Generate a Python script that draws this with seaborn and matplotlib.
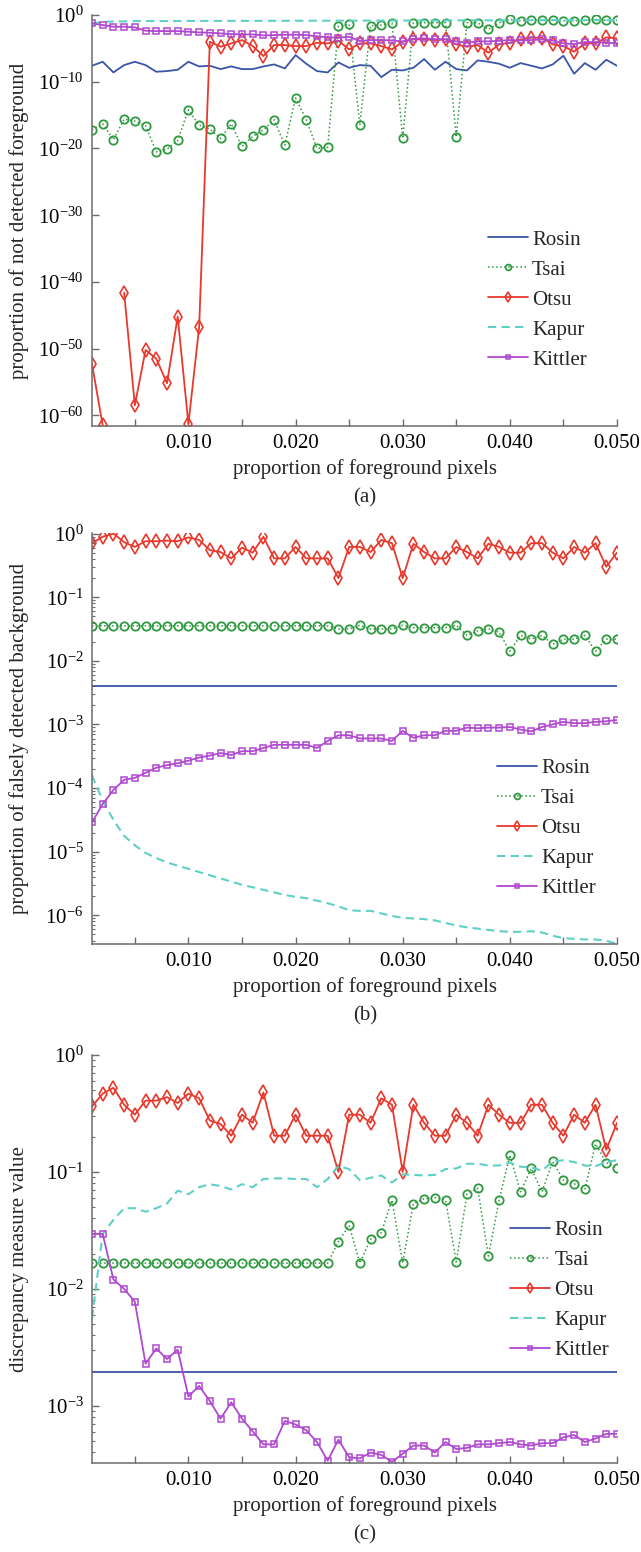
import numpy as np
import pandas as pd
import matplotlib
matplotlib.use('Agg')
import matplotlib.pyplot as plt
import matplotlib.ticker as mticker
import seaborn as sns

# x axis: proportion of foreground pixels (same for all three panels)
fg_prop = [0.001, 0.002, 0.003, 0.004, 0.005, 0.006, 0.007, 0.008, 0.009, 0.010,
           0.011, 0.012, 0.013, 0.014, 0.015, 0.016, 0.017, 0.018, 0.019, 0.020,
           0.021, 0.022, 0.023, 0.024, 0.025, 0.026, 0.027, 0.028, 0.029, 0.030,
           0.031, 0.032, 0.033, 0.034, 0.035, 0.036, 0.037, 0.038, 0.039, 0.040,
           0.041, 0.042, 0.043, 0.044, 0.045, 0.046, 0.047, 0.048, 0.049, 0.050]

# values are read off the log axes, stored as log10(value)
# (a) proportion of not detected foreground
rosin_a = [-7.6, -7.0, -8.6, -7.5, -7.0, -7.5, -8.5, -8.4, -8.2, -7.0,
           -7.7, -7.6, -8.1, -7.7, -8.1, -8.1, -7.7, -7.4, -8.0, -6.0,
           -7.3, -8.4, -8.6, -7.1, -7.9, -7.5, -7.6, -9.3, -8.2, -8.3,
           -7.9, -6.6, -8.2, -7.0, -8.1, -8.3, -6.8, -7.0, -7.3, -7.9,
           -7.2, -7.6, -8.0, -7.4, -6.1, -8.8, -7.2, -8.2, -6.7, -7.6]
tsai_a = [-17.2, -16.3, -18.7, -15.6, -15.9, -16.6, -20.5, -20.1, -18.8, -14.2,
          -16.5, -17.1, -18.5, -16.3, -19.7, -18.2, -17.2, -15.7, -19.5, -12.4,
          -15.7, -20.0, -19.8, -1.7, -1.4, -16.5, -1.6, -1.5, -1.2, -18.5,
          -1.15, -1.15, -1.15, -1.15, -18.3, -1.15, -1.15, -2.15, -1.15, -0.65,
          -0.85, -0.75, -0.8, -0.75, -0.85, -0.85, -0.8, -0.65, -0.8, -0.8]
otsu_a = [-52.3, -61.5, np.nan, -41.6, -58.5, -50.2, -51.5, -55.2, -45.2, -61.3,
          -46.8, -4.0, -4.75, -4.25, -3.75, -4.65, -6.15, -4.5, -4.5, -4.65,
          -4.65, -4.15, -4.25, -3.85, -5.15, -4.25, -4.25, -4.65, -5.15, -4.0,
          -3.65, -3.65, -3.75, -3.65, -4.4, -4.75, -4.5, -5.65, -4.4, -4.15,
          -3.65, -3.4, -3.4, -4.4, -4.65, -5.5, -4.25, -4.25, -3.35, -3.5]
kapur_a = [-1.25, -1.05, -0.95, -0.95, -0.9, -0.9, -0.9, -0.9, -0.9, -0.88,
           -0.88, -0.88, -0.87, -0.87, -0.87, -0.87, -0.86, -0.86, -0.86, -0.85,
           -0.85, -0.85, -0.85, -0.84, -0.84, -0.84, -0.83, -0.83, -0.83, -0.82,
           -0.82, -0.82, -0.81, -0.81, -0.8, -0.8, -0.8, -0.8, -0.79, -0.79,
           -0.78, -0.78, -0.78, -0.77, -0.77, -0.77, -0.76, -0.76, -0.75, -0.75]
kittler_a = [-1.25, -1.5, -1.75, -1.75, -1.85, -2.35, -2.4, -2.4, -2.4, -2.5,
             -2.6, -2.65, -2.75, -2.85, -2.9, -2.9, -3.05, -3.0, -2.95, -2.95,
             -3.0, -3.2, -3.35, -3.4, -3.25, -3.9, -3.75, -3.75, -3.8, -3.95,
             -3.55, -3.5, -3.6, -3.65, -3.95, -4.15, -3.95, -3.95, -3.85, -3.75,
             -3.8, -3.75, -3.65, -3.8, -4.25, -4.35, -4.05, -4.05, -4.15, -4.25]

# (b) proportion of falsely detected background
rosin_b = [-2.39, -2.39, -2.39, -2.39, -2.39, -2.39, -2.39, -2.39, -2.39, -2.39,
           -2.39, -2.39, -2.39, -2.39, -2.39, -2.39, -2.39, -2.39, -2.39, -2.39,
           -2.39, -2.39, -2.39, -2.39, -2.39, -2.39, -2.39, -2.39, -2.39, -2.39,
           -2.39, -2.39, -2.39, -2.39, -2.39, -2.39, -2.39, -2.39, -2.39, -2.39,
           -2.39, -2.39, -2.39, -2.39, -2.39, -2.39, -2.39, -2.39, -2.39, -2.39]
tsai_b = [-1.45, -1.45, -1.45, -1.45, -1.45, -1.45, -1.45, -1.45, -1.45, -1.45,
          -1.45, -1.45, -1.45, -1.45, -1.45, -1.45, -1.45, -1.45, -1.45, -1.45,
          -1.45, -1.45, -1.45, -1.50, -1.50, -1.44, -1.50, -1.50, -1.50, -1.44,
          -1.48, -1.48, -1.48, -1.48, -1.44, -1.60, -1.53, -1.50, -1.55, -1.85,
          -1.60, -1.66, -1.60, -1.74, -1.66, -1.66, -1.60, -1.85, -1.66, -1.66]
otsu_b = [-0.15, -0.05, 0.0, -0.135, -0.21, -0.12, -0.12, -0.11, -0.12, -0.06,
          -0.1, -0.26, -0.29, -0.39, -0.22, -0.3, -0.05, -0.39, -0.39, -0.21,
          -0.39, -0.39, -0.39, -0.7, -0.21, -0.21, -0.29, -0.1, -0.15, -0.7,
          -0.16, -0.29, -0.39, -0.39, -0.21, -0.29, -0.39, -0.16, -0.21, -0.3,
          -0.3, -0.15, -0.15, -0.3, -0.39, -0.21, -0.3, -0.15, -0.52, -0.3]
kapur_b = [-3.8, -4.2, -4.5, -4.75, -4.9, -5.02, -5.1, -5.17, -5.22, -5.27,
           -5.32, -5.37, -5.42, -5.47, -5.52, -5.56, -5.6, -5.64, -5.68, -5.71,
           -5.73, -5.77, -5.81, -5.86, -5.92, -5.93, -5.93, -5.97, -6.01, -6.04,
           -6.05, -6.06, -6.08, -6.12, -6.16, -6.19, -6.21, -6.23, -6.25, -6.26,
           -6.26, -6.25, -6.27, -6.32, -6.36, -6.37, -6.38, -6.38, -6.4, -6.45]
kittler_b = [-4.54, -4.25, -4.03, -3.87, -3.84, -3.76, -3.68, -3.64, -3.61, -3.57,
             -3.52, -3.49, -3.45, -3.48, -3.42, -3.42, -3.37, -3.32, -3.32, -3.32,
             -3.32, -3.37, -3.26, -3.17, -3.17, -3.22, -3.22, -3.22, -3.26, -3.10,
             -3.21, -3.17, -3.17, -3.10, -3.10, -3.05, -3.06, -3.05, -3.05, -3.04,
             -3.08, -3.11, -3.04, -3.0, -2.96, -2.98, -2.98, -2.96, -2.95, -2.93]

# (c) discrepancy measure value
rosin_c = [-2.71, -2.71, -2.71, -2.71, -2.71, -2.71, -2.71, -2.71, -2.71, -2.71,
           -2.71, -2.71, -2.71, -2.71, -2.71, -2.71, -2.71, -2.71, -2.71, -2.71,
           -2.71, -2.71, -2.71, -2.71, -2.71, -2.71, -2.71, -2.71, -2.71, -2.71,
           -2.71, -2.71, -2.71, -2.71, -2.71, -2.71, -2.71, -2.71, -2.71, -2.71,
           -2.71, -2.71, -2.71, -2.71, -2.71, -2.71, -2.71, -2.71, -2.71, -2.71]
tsai_c = [-1.78, -1.78, -1.78, -1.78, -1.78, -1.78, -1.78, -1.78, -1.78, -1.78,
          -1.78, -1.78, -1.78, -1.78, -1.78, -1.78, -1.78, -1.78, -1.78, -1.78,
          -1.78, -1.78, -1.78, -1.595, -1.457, -1.78, -1.575, -1.52, -1.24, -1.78,
          -1.27, -1.23, -1.22, -1.24, -1.77, -1.19, -1.14, -1.72, -1.24, -0.856,
          -1.17, -0.97, -1.17, -0.91, -1.07, -1.10, -1.15, -0.76, -0.92, -0.97]
otsu_c = [-0.44, -0.33, -0.28, -0.425, -0.51, -0.39, -0.39, -0.36, -0.41, -0.33,
          -0.37, -0.56, -0.59, -0.69, -0.51, -0.58, -0.32, -0.69, -0.69, -0.51,
          -0.69, -0.69, -0.69, -1.0, -0.51, -0.51, -0.58, -0.37, -0.425, -1.0,
          -0.425, -0.58, -0.69, -0.69, -0.51, -0.58, -0.69, -0.425, -0.51, -0.58,
          -0.58, -0.425, -0.425, -0.58, -0.69, -0.51, -0.58, -0.425, -0.81, -0.58]
kapur_c = [-2.25, -1.53, -1.41, -1.31, -1.31, -1.34, -1.31, -1.27, -1.16, -1.19,
           -1.13, -1.105, -1.12, -1.15, -1.105, -1.13, -1.06, -1.055, -1.055, -1.06,
           -1.06, -1.13, -1.06, -0.95, -0.975, -1.07, -1.05, -1.03, -1.09, -1.02,
           -1.025, -1.03, -1.025, -0.975, -0.97, -0.93, -0.93, -0.945, -0.945, -0.92,
           -0.955, -0.96, -0.99, -0.91, -0.9, -0.915, -0.945, -0.95, -0.915, -0.9]
kittler_c = [-1.53, -1.53, -1.92, -2.0, -2.11, -2.64, -2.51, -2.60, -2.52, -2.92,
             -2.83, -2.96, -3.11, -2.97, -3.11, -3.22, -3.33, -3.33, -3.13, -3.16,
             -3.21, -3.31, -3.47, -3.29, -3.44, -3.45, -3.40, -3.42, -3.48, -3.41,
             -3.34, -3.34, -3.40, -3.31, -3.37, -3.36, -3.33, -3.33, -3.32, -3.31,
             -3.33, -3.34, -3.32, -3.32, -3.27, -3.25, -3.31, -3.28, -3.24, -3.24]

method_names = ['Rosin', 'Tsai', 'Otsu', 'Kapur', 'Kittler']
panels = [
    ('proportion of not detected foreground', '(a)',
     [rosin_a, tsai_a, otsu_a, kapur_a, kittler_a]),
    ('proportion of falsely detected background', '(b)',
     [rosin_b, tsai_b, otsu_b, kapur_b, kittler_b]),
    ('discrepancy measure value', '(c)',
     [rosin_c, tsai_c, otsu_c, kapur_c, kittler_c]),
]

# look of each method
colors = {'Rosin': '#3a55a8', 'Tsai': '#2f9a3f', 'Otsu': '#e8392c',
          'Kapur': '#5fd0c6', 'Kittler': '#b048d0'}
line_styles = {
    'Rosin':   dict(linestyle='-', linewidth=1.3),
    'Tsai':    dict(linestyle=':', linewidth=1.1, marker='o', markersize=6,
                    markerfacecolor='none', markeredgewidth=1.3),
    'Otsu':    dict(linestyle='-', linewidth=1.3, marker='d', markersize=7,
                    markerfacecolor='none', markeredgewidth=1.2),
    'Kapur':   dict(linestyle=(0, (4, 2.5)), linewidth=1.5),
    'Kittler': dict(linestyle='-', linewidth=1.3, marker='s', markersize=5,
                    markerfacecolor='none', markeredgewidth=1.1),
}

# layout (pixels of a 641x1552 image)
axes_boxes = [(0.1435, 0.7255, 0.819, 0.2648),
              (0.1435, 0.3918, 0.819, 0.2648),
              (0.1435, 0.0573, 0.819, 0.2629)]
y_limits = [(10 ** -61.6, 1.0), (10 ** -6.45, 10 ** 0.01), (10 ** -3.49, 1.0)]
legend_anchor = [(0.755, 0.307), (0.772, 0.282), (0.797, 0.424)]

sns.set_theme(style='ticks')
plt.rcParams['font.family'] = ['Liberation Serif', 'DejaVu Serif']
plt.rcParams['mathtext.fontset'] = 'custom'
plt.rcParams['mathtext.rm'] = 'Liberation Serif'
plt.rcParams['mathtext.it'] = 'Liberation Serif:italic'
plt.rcParams['mathtext.bf'] = 'Liberation Serif:bold'

axis_grey = '#6b6b6b'
fig = plt.figure(figsize=(6.41, 15.52), dpi=100)

for k, (ylab, caption, series) in enumerate(panels):
    ax = fig.add_axes(axes_boxes[k])
    ax.set_yscale('log')

    for name, vals in zip(method_names, series):
        df = pd.DataFrame({'x': fg_prop, 'y': np.power(10.0, np.array(vals, dtype=float))})
        # a missing value breaks the line, like in the original figure
        df['seg'] = df['y'].isna().cumsum()
        sns.lineplot(data=df, x='x', y='y', units='seg', estimator=None, ax=ax,
                     label=name, legend=False, color=colors[name],
                     markeredgecolor=colors[name], **line_styles[name])

    ax.set_xlim(0.001, 0.050)
    ax.set_ylim(*y_limits[k])

    # x ticks every 0.005, labels every 0.010
    ax.xaxis.set_major_locator(mticker.FixedLocator([0.005, 0.010, 0.015, 0.020, 0.025,
                                                     0.030, 0.035, 0.040, 0.045, 0.050]))
    ax.xaxis.set_major_formatter(mticker.FuncFormatter(
        lambda v, pos: f'{v:.3f}' if round(v * 1000) % 10 == 0 else ''))

    if k == 0:
        ax.yaxis.set_major_locator(mticker.FixedLocator([10.0 ** e for e in range(-60, 1, 10)]))
        ax.yaxis.set_minor_locator(mticker.NullLocator())
    else:
        ax.yaxis.set_major_locator(mticker.LogLocator(base=10, numticks=20))
        ax.yaxis.set_minor_locator(mticker.LogLocator(base=10, subs=np.arange(2, 10), numticks=20))
        ax.yaxis.set_minor_formatter(mticker.NullFormatter())
    ax.yaxis.set_major_formatter(mticker.LogFormatterSciNotation())

    sns.despine(ax=ax)
    for side in ('left', 'bottom'):
        ax.spines[side].set_color(axis_grey)
        ax.spines[side].set_linewidth(1.1)
    ax.tick_params(which='major', direction='in', length=5, width=1, color=axis_grey,
                   labelsize=15, labelcolor='black', pad=6)
    ax.tick_params(which='minor', direction='in', length=2.5, width=0.8, color=axis_grey)

    ax.set_xlabel('proportion of foreground pixels', fontsize=15)
    ax.xaxis.set_label_coords(0.52, -0.08)
    ax.set_ylabel(ylab, fontsize=15)
    ax.yaxis.set_label_coords(-0.12, 0.5)
    ax.text(0.52, -0.175, caption, transform=ax.transAxes, ha='center', va='center',
            fontsize=15)

    handles, labels = ax.get_legend_handles_labels()
    seen = {}
    for h, l in zip(handles, labels):
        seen.setdefault(l, h)
    ax.legend(list(seen.values()), list(seen.keys()), loc='center left',
              bbox_to_anchor=legend_anchor[k], frameon=False, fontsize=15,
              handlelength=1.9, handletextpad=0.2, labelspacing=0.5,
              borderpad=0, borderaxespad=0, markerscale=0.7)

fig.savefig('out.png', dpi=100)
